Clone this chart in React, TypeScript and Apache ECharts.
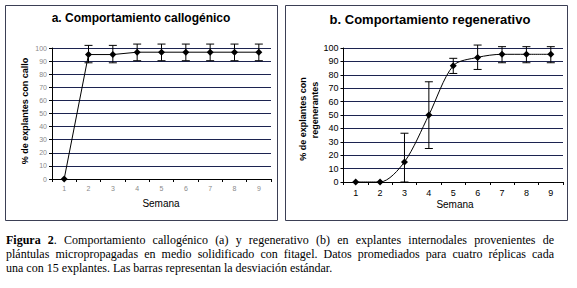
import React, { useEffect, useRef } from "react";
import * as echarts from "echarts";

const weeks = ["1", "2", "3", "4", "5", "6", "7", "8", "9"];
const callusMean = [0, 95, 95, 96.8, 96.8, 96.8, 96.8, 96.8, 96.8];
const callusLow = [0, 88.7, 88.7, 90.3, 90.3, 90.3, 90.3, 90.3, 90.3];
const callusHigh = [0, 102, 102, 103, 103, 103, 103, 103, 103];
const regenMean = [0, 0, 15, 50, 86.8, 93, 95.3, 95.3, 95.3];
const regenLow = [0, 0, 0, 25, 81, 84, 89, 89, 89];
const regenHigh = [0, 0, 36.4, 74.8, 92.3, 102.2, 101, 101, 101];

const captionLines = [
  { bold: "Figura 2", rest: ". Comportamiento callogénico (a) y regenerativo (b) en explantes internodales provenientes de", justify: true },
  { bold: "", rest: "plántulas micropropagadas en medio solidificado con fitagel. Datos promediados para cuatro réplicas cada", justify: true },
  { bold: "", rest: "una con 15 explantes. Las barras representan la desviación estándar.", justify: false },
];

const GRID_COLOR = "#1c2350";
const SERIF = "'Liberation Serif', 'Times New Roman', serif";
const SANS = "'Liberation Sans', Arial, sans-serif";

function errorSeries(xi: number, yi: number, low: number[], high: number[], skip: boolean[]) {
  return {
    type: "custom",
    xAxisIndex: xi,
    yAxisIndex: yi,
    clip: false,
    silent: true,
    z: 3,
    data: weeks.map((w, i) => [i, low[i], high[i]]),
    renderItem: (params: any, api: any) => {
      const i = api.value(0);
      if (skip[i]) return null;
      const lo = api.coord([i, api.value(1)]);
      const hi = api.coord([i, api.value(2)]);
      const hw = 4;
      const st = { stroke: "#000", lineWidth: 1 };
      return {
        type: "group",
        children: [
          { type: "line", shape: { x1: hi[0], y1: hi[1], x2: lo[0], y2: lo[1] }, style: st },
          { type: "line", shape: { x1: hi[0] - hw, y1: hi[1], x2: hi[0] + hw, y2: hi[1] }, style: st },
          { type: "line", shape: { x1: lo[0] - hw, y1: lo[1], x2: lo[0] + hw, y2: lo[1] }, style: st },
        ],
      };
    },
  };
}

function buildCaption(): any[] {
  const canvas = document.createElement("canvas");
  const ctx = canvas.getContext("2d") as CanvasRenderingContext2D;
  const size = 12;
  const left = 6;
  const right = 554;
  const ys = [240, 254, 268];
  const out: any[] = [];
  captionLines.forEach((ln, li) => {
    const tokens: { t: string; bold: boolean }[] = [];
    if (ln.bold) {
      const bw = ln.bold.split(" ");
      const rw = ln.rest.split(" ");
      tokens.push({ t: bw[0], bold: true });
      tokens.push({ t: bw[1] + "|" + rw[0], bold: true });
      rw.slice(1).forEach((w) => tokens.push({ t: w, bold: false }));
    } else {
      ln.rest.split(" ").forEach((w) => tokens.push({ t: w, bold: false }));
    }
    const widthOf = (tk: { t: string; bold: boolean }) => {
      if (tk.t.includes("|")) {
        const [a, b] = tk.t.split("|");
        ctx.font = `bold ${size}px ${SERIF}`;
        const wa = ctx.measureText(a).width;
        ctx.font = `${size}px ${SERIF}`;
        return wa + ctx.measureText(b).width;
      }
      ctx.font = `${tk.bold ? "bold " : ""}${size}px ${SERIF}`;
      return ctx.measureText(tk.t).width;
    };
    const widths = tokens.map(widthOf);
    const total = widths.reduce((a, b) => a + b, 0);
    ctx.font = `${size}px ${SERIF}`;
    const space = ctx.measureText(" ").width;
    const gap = ln.justify ? (right - left - total) / (tokens.length - 1) : space;
    let x = left;
    tokens.forEach((tk, k) => {
      if (tk.t.includes("|")) {
        const [a, b] = tk.t.split("|");
        ctx.font = `bold ${size}px ${SERIF}`;
        const wa = ctx.measureText(a).width;
        out.push({ type: "text", x, y: ys[li], style: { text: a, font: `bold ${size}px ${SERIF}`, fill: "#000", verticalAlign: "middle" } });
        out.push({ type: "text", x: x + wa, y: ys[li], style: { text: b, font: `${size}px ${SERIF}`, fill: "#000", verticalAlign: "middle" } });
      } else {
        out.push({ type: "text", x, y: ys[li], style: { text: tk.t, font: `${tk.bold ? "bold " : ""}${size}px ${SERIF}`, fill: "#000", verticalAlign: "middle" } });
      }
      x += widths[k] + gap;
    });
  });
  return out;
}

export default function App() {
  const ref = useRef<HTMLDivElement>(null);
  useEffect(() => {
    document.body.style.margin = "0";
    const chart = echarts.init(ref.current!, null, { renderer: "svg" });
    const yAxisBase = (labelStyle: any) => ({
      type: "value",
      min: 0,
      max: 100,
      interval: 10,
      axisLine: { show: true, lineStyle: { color: "#000", width: 1 } },
      axisTick: { show: true, length: 3, lineStyle: { color: "#000" } },
      splitLine: { show: true, lineStyle: { color: GRID_COLOR, width: 1 } },
      axisLabel: { margin: 5, ...labelStyle },
    });
    const xAxisBase = (gridIndex: number, labelStyle: any) => ({
      type: "category",
      gridIndex,
      data: weeks,
      boundaryGap: true,
      axisLine: { show: true, onZero: false, lineStyle: { color: "#000", width: 1 } },
      axisTick: { show: true, length: 3, inside: false, lineStyle: { color: "#000" } },
      axisLabel: { margin: 6, ...labelStyle },
    });
    const option: any = {
      animation: false,
      backgroundColor: "#fff",
      grid: [
        { left: 52, top: 48, width: 219, height: 131 },
        { left: 343.5, top: 48, width: 219.5, height: 134 },
      ],
      xAxis: [
        xAxisBase(0, { fontSize: 7, color: "#8a8a8a", fontFamily: SANS }),
        xAxisBase(1, { fontSize: 9, color: "#000", fontFamily: SANS }),
      ],
      yAxis: [
        { ...yAxisBase({ fontSize: 7, color: "#8a8a8a", fontFamily: SANS }), gridIndex: 0 },
        { ...yAxisBase({ fontSize: 9, color: "#000", fontFamily: SANS }), gridIndex: 1 },
      ],
      series: [
        {
          type: "line",
          xAxisIndex: 0,
          yAxisIndex: 0,
          data: callusMean,
          symbol: "diamond",
          symbolSize: 7,
          itemStyle: { color: "#000" },
          lineStyle: { color: "#000", width: 1 },
          clip: false,
          z: 4,
        },
        errorSeries(0, 0, callusLow, callusHigh, [true, false, false, false, false, false, false, false, false]),
        {
          type: "line",
          xAxisIndex: 1,
          yAxisIndex: 1,
          data: regenMean,
          symbol: "diamond",
          symbolSize: 7,
          smooth: 0.3,
          itemStyle: { color: "#000" },
          lineStyle: { color: "#000", width: 1 },
          clip: false,
          z: 4,
        },
        errorSeries(1, 1, regenLow, regenHigh, [true, true, false, false, false, false, false, false, false]),
      ],
      graphic: [
        { type: "rect", shape: { x: 5.5, y: 5.5, width: 272, height: 215 }, style: { fill: "none", stroke: "#3b3f55", lineWidth: 1 } },
        { type: "rect", shape: { x: 285.5, y: 5.5, width: 282, height: 215 }, style: { fill: "none", stroke: "#3b3f55", lineWidth: 1 } },
        { type: "text", x: 141, y: 18, style: { text: "a. Comportamiento callogénico", font: `bold 12px ${SANS}`, fill: "#000", align: "center", verticalAlign: "middle" } },
        { type: "text", x: 430, y: 19, style: { text: "b. Comportamiento regenerativo", font: `bold 13px ${SANS}`, fill: "#000", align: "center", verticalAlign: "middle" } },
        { type: "text", x: 25, y: 111, rotation: Math.PI / 2, style: { text: "% de explantes con callo", font: `bold 9px ${SANS}`, fill: "#000", align: "center", verticalAlign: "middle" } },
        { type: "text", x: 303, y: 119, rotation: Math.PI / 2, style: { text: "% de explantes con", font: `bold 9px ${SANS}`, fill: "#000", align: "center", verticalAlign: "middle" } },
        { type: "text", x: 315, y: 110, rotation: Math.PI / 2, style: { text: "regenerantes", font: `bold 9px ${SANS}`, fill: "#000", align: "center", verticalAlign: "middle" } },
        { type: "text", x: 161, y: 203, style: { text: "Semana", font: `10px ${SANS}`, fill: "#000", align: "center", verticalAlign: "middle" } },
        { type: "text", x: 455, y: 204, style: { text: "Semana", font: `10px ${SANS}`, fill: "#000", align: "center", verticalAlign: "middle" } },
        ...buildCaption(),
      ],
    };
    chart.setOption(option);
    return () => chart.dispose();
  }, []);
  return <div ref={ref} style={{ width: 577, height: 288 }} />;
}
